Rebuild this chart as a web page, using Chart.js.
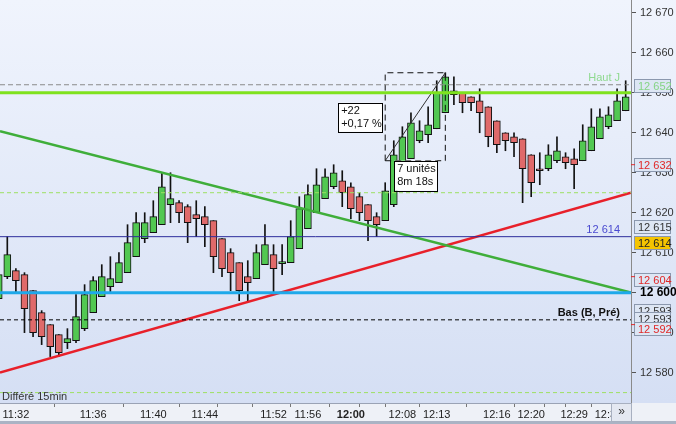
<!DOCTYPE html>
<html>
<head>
<meta charset="utf-8">
<script src="https://cdn.jsdelivr.net/npm/chart.js@4"></script>
<style>
  html, body { margin: 0; padding: 0; background: #e9eef9; }
  #wrap { width: 676px; height: 424px; }
</style>
</head>
<body>
<div id="wrap"><canvas id="chart" width="676" height="424"></canvas></div>
<script>
// candles (one per unit, left to right)
const opens  = [12598.5,12604,12605.5,12604.5,12600.5,12595,12592,12589.5,12587.5,12588,12591,12595,12599,12601.5,12602.5,12605,12609,12613.5,12615,12617,12622,12622.5,12621.5,12619.5,12619,12618,12613.5,12610,12607.5,12604,12603.5,12607,12609.5,12607.25,12607.5,12611,12616,12620,12623.5,12626.5,12628,12626.5,12624,12622,12619,12618,12622,12628,12633.5,12638,12639.5,12641,12645,12649.5,12650,12649,12648,12646.5,12643,12640,12639,12638.5,12634.5,12631,12631,12633,12634,12633.5,12633,12635.5,12638.5,12641.5,12643,12645.5];
const highs  = [12606,12614,12606,12605,12600.5,12595.5,12592,12589.5,12591,12599.5,12602,12604,12607,12609,12610,12617,12620,12620,12623,12630,12630,12623,12622,12623,12621.5,12618,12613.5,12611,12607.5,12608,12612,12617,12612,12612,12618,12624,12627,12631,12631,12632,12630.5,12627.5,12625,12622,12620,12627.5,12638,12641.5,12645,12643,12646.5,12653,12655,12654,12650,12649,12651,12646.5,12643,12640,12640,12638.5,12634.5,12635,12637,12639,12635,12636,12642,12646,12646,12646.5,12651,12653];
const lows   = [12597.5,12603.5,12600,12590,12589,12587,12584,12584,12586,12587.5,12590.5,12595,12599,12600,12602.5,12605,12609,12612.5,12615,12617,12617.5,12617.5,12612.5,12614,12611.5,12605,12604,12600.5,12598,12598,12603.5,12607,12600,12604.5,12607.5,12611,12616,12620,12623.5,12626,12621.5,12618.5,12618,12613,12614,12618,12621.5,12628,12633.5,12637.5,12637.5,12641,12645,12647,12645,12645.5,12640,12636.5,12635,12635.5,12634,12622.5,12624,12627,12630.5,12632.5,12631,12626,12633,12635.5,12638.5,12641,12643,12645.5];
const closes = [12604.5,12609.5,12603,12596,12590,12589,12586.5,12585,12588.5,12594,12599.5,12603,12604,12603.5,12607.5,12612.5,12617.5,12617.5,12619,12626.5,12623.5,12620,12617.5,12618.5,12617,12609,12606,12605,12600.5,12602.5,12610,12612,12606,12607.75,12614,12621,12624.5,12627,12629,12630,12625,12621,12620,12618,12617,12625.5,12634.5,12639,12642.5,12640.5,12642,12650,12654,12650.5,12647.5,12647.5,12645,12639,12637,12638,12637.5,12631,12627.5,12630.5,12634.5,12635.5,12632.5,12632,12638,12641.5,12644,12644.5,12648,12649];

// time axis: candle index -> label
const xTickIdx    = [2, 11, 18, 24, 27, 32, 36, 41, 43, 47, 51, 58, 62, 65, 67, 71];
const xTickLabels = ['11:32','11:36','11:40','11:44','','11:52','11:56','12:00','','12:08','12:13','12:16','12:20','','12:29','12:33'];
const yTicks = [12580, 12590, 12600, 12610, 12620, 12630, 12640, 12650, 12660, 12670];

// drawn levels and trend lines
const levelLime = 12650;
const levelHautJ = 12652;
const levelNavy = 12614;
const levelCyan = 12600;
const levelBas = 12593.2;
const levelsPaleGreen = [12625, 12575];
const greenTrend = [12640.4, 12600];
const redTrend = [12580, 12625];
const measureFrom = [45, 12633];
const measureTo = [52, 12655];

const X_MIN = 0.15, X_MAX = 73.62;
const Y_MIN = 12572.4, Y_MAX = 12673.2;
const FONT = '"Liberation Sans", Arial, sans-serif';

const fmt = v => String(Math.round(v)).replace(/\B(?=(\d{3})+(?!\d))/g, ' ');

const bodyColors = opens.map((o, i) => closes[i] >= o ? '#52c852' : '#e06a6a');

const hline = (v, color, width, dash) => ({
  type: 'line',
  data: [{x: X_MIN, y: v}, {x: X_MAX, y: v}],
  borderColor: color, borderWidth: width, borderDash: dash || [],
  pointRadius: 0, clip: 0, order: 0
});

const trend = (vals, color) => ({
  type: 'line',
  data: [{x: X_MIN, y: vals[0]}, {x: X_MAX, y: vals[1]}],
  borderColor: color, borderWidth: 2.5, pointRadius: 0, clip: 0, order: 0
});

const [mx0, my0] = measureFrom, [mx1, my1] = measureTo;

const overlay = {
  id: 'overlay',
  beforeDraw(chart) {
    const {ctx, chartArea: a, width, height} = chart;
    ctx.save();
    const g = ctx.createLinearGradient(0, 0, 0, a.bottom);
    g.addColorStop(0, '#f0f4fd');
    g.addColorStop(1, '#d5dff4');
    ctx.fillStyle = g;
    ctx.fillRect(0, 0, width, a.bottom);
    ctx.fillStyle = '#eef1f7';
    ctx.fillRect(0, a.bottom, width, height - a.bottom);
    ctx.fillStyle = '#aab3c4';
    ctx.fillRect(0, height - 3, width, 3);
    ctx.restore();
  },
  afterDatasetsDraw(chart) {
    const {ctx, chartArea: a, scales: {x, y}} = chart;
    ctx.save();
    ctx.font = '11px ' + FONT;
    ctx.textBaseline = 'bottom';
    ctx.textAlign = 'right';
    ctx.fillStyle = '#8fd98f';
    ctx.fillText('Haut J', a.right - 11, y.getPixelForValue(levelHautJ) - 1);
    ctx.fillStyle = '#4a4ad0';
    ctx.fillText(fmt(levelNavy), a.right - 11, y.getPixelForValue(levelNavy) - 1);
    ctx.font = 'bold 11px ' + FONT;
    ctx.fillStyle = '#111';
    ctx.fillText('Bas (B, Pré)', a.right - 11, y.getPixelForValue(levelBas) - 1);

    ctx.font = '11px ' + FONT;
    ctx.textAlign = 'left';
    ctx.textBaseline = 'middle';
    ctx.fillStyle = '#333';
    ctx.fillText('Différé 15min', 2, a.bottom - 6);

    // measurement labels
    const xs = x.getPixelForValue(mx0);
    const box = (l, t, w, h, lines) => {
      ctx.fillStyle = '#ffffff';
      ctx.fillRect(l, t, w, h);
      ctx.strokeStyle = '#000';
      ctx.lineWidth = 1;
      ctx.strokeRect(Math.round(l) + 0.5, Math.round(t) + 0.5, w, h);
      ctx.fillStyle = '#111';
      lines.forEach((s, k) => ctx.fillText(s, l + 3, t + 8 + k * 13.5));
    };
    box(xs - 47, y.getPixelForValue(12647.5), 44, 29, ['+22', '+0,17 %']);
    box(xs + 9, y.getPixelForValue(my0), 43, 30, ['7 unités', '8m 18s']);
    ctx.restore();
  },
  afterDraw(chart) {
    const {ctx, chartArea: a, scales: {y}, height} = chart;
    ctx.save();
    ctx.font = '11px ' + FONT;
    ctx.textBaseline = 'middle';
    ctx.textAlign = 'left';
    const marks = [
      {v: 12652, dy: 1.5, color: '#86d486', fill: '#dde6f4'},
      {v: 12632, dy: 0.5, color: '#e02828', fill: '#dde6f4', tick: true},
      {v: 12615, dy: -6, color: '#333', fill: '#dde6f4'},
      {v: 12614, dy: 6, color: '#222', fill: '#f5c400'},
      {v: 12604, dy: 3, color: '#e02828', fill: '#dde6f4', tick: true},
      {v: 12593, dy: -10, color: '#333', fill: '#dde6f4'},
      {v: 12593, dy: -2, color: '#333', fill: '#dde6f4'},
      {v: 12592, dy: 4.5, color: '#e02828', fill: '#dde6f4', tick: true}
    ];
    marks.forEach(m => {
      const py = y.getPixelForValue(m.v);
      const cy = Math.round(py + m.dy);
      ctx.fillStyle = m.fill;
      ctx.fillRect(635, cy - 6, 36, 12);
      ctx.strokeStyle = '#8b98ae';
      ctx.lineWidth = 1;
      ctx.strokeRect(634.5, cy - 6.5, 36, 13);
      ctx.fillStyle = m.color;
      ctx.fillText(fmt(m.v), 638, cy + 0.5);
      if (m.tick) {
        ctx.strokeStyle = m.color;
        ctx.beginPath();
        ctx.moveTo(a.right, py); ctx.lineTo(a.right + 4, py);
        ctx.stroke();
      }
    });
    // scroll button
    ctx.fillStyle = '#e4e8f1';
    ctx.fillRect(612, a.bottom + 1, 19, height - a.bottom - 4);
    ctx.strokeStyle = '#a8b0c0';
    ctx.strokeRect(611.5, a.bottom + 0.5, 20, height - a.bottom - 3);
    ctx.fillStyle = '#333';
    ctx.font = '12px ' + FONT;
    ctx.textAlign = 'center';
    ctx.fillText('»', 621.5, a.bottom + 9);
    ctx.restore();
  }
};

const noPad = s => { s.paddingTop = 0; s.paddingBottom = 0; s.paddingLeft = 0; s.paddingRight = 0; };

new Chart(document.getElementById('chart'), {
  type: 'bar',
  data: {
    datasets: [
      hline(levelsPaleGreen[0], '#9ee063', 1, [4, 3]),
      hline(levelsPaleGreen[1], '#9ee063', 1, [4, 3]),
      hline(levelHautJ, '#8a8a8a', 1, [5, 3]),
      hline(levelBas, '#000000', 1, [4, 3]),
      hline(levelNavy, '#2d2d9c', 1),
      hline(levelLime, '#7fe21e', 3),
      hline(levelCyan, '#1ea9ea', 3),
      trend(greenTrend, '#3fae3a'),
      trend(redTrend, '#e8202a'),
      {
        type: 'line',
        data: [{x: mx0, y: my0}, {x: mx1, y: my0}, {x: mx1, y: my1}, {x: mx0, y: my1}, {x: mx0, y: my0}],
        borderColor: '#111', borderWidth: 1, borderDash: [6, 4], pointRadius: 0, order: 0
      },
      {
        type: 'line',
        data: [{x: mx0, y: my0}, {x: mx1, y: my1}],
        borderColor: '#333', borderWidth: 1, pointRadius: 0, order: 0
      },
      {
        label: 'bodies',
        data: opens.map((o, i) => ({x: i, y: [o, closes[i]]})),
        backgroundColor: bodyColors,
        borderColor: '#111',
        borderWidth: 1,
        borderSkipped: false,
        barThickness: 7,
        grouped: false,
        order: 1
      },
      {
        label: 'wicks',
        data: lows.map((l, i) => ({x: i, y: [l, highs[i]]})),
        backgroundColor: '#111',
        borderWidth: 0,
        barThickness: 1,
        grouped: false,
        order: 2
      }
    ]
  },
  options: {
    responsive: false,
    animation: false,
    devicePixelRatio: 1,
    layout: { padding: 0, autoPadding: false },
    plugins: { legend: { display: false }, tooltip: { enabled: false } },
    scales: {
      x: {
        type: 'linear', min: X_MIN, max: X_MAX, offset: false,
        afterBuildTicks: s => { s.ticks = xTickIdx.map(v => ({value: v})); },
        afterFit: s => { s.height = 21; noPad(s); },
        grid: { drawOnChartArea: false, tickLength: 4, color: '#777' },
        border: { color: '#9aa3b5' },
        ticks: {
          autoSkip: false, maxRotation: 0, padding: 1, color: '#222',
          font: c => ({ family: FONT, size: 11, weight: c.tick && c.tick.value === 41 ? 'bold' : 'normal' }),
          callback: v => xTickLabels[xTickIdx.indexOf(v)] || ''
        }
      },
      y: {
        position: 'right', min: Y_MIN, max: Y_MAX,
        afterBuildTicks: s => { s.ticks = yTicks.map(v => ({value: v})); },
        afterFit: s => { s.width = 45; noPad(s); },
        grid: { drawOnChartArea: false, tickLength: 5, color: '#555' },
        border: { color: '#8a8a8a' },
        ticks: {
          padding: 4,
          color: c => c.tick && c.tick.value === 12600 ? '#000' : '#333',
          font: c => c.tick && c.tick.value === 12600
            ? { family: FONT, size: 12, weight: 'bold' }
            : { family: FONT, size: 11 },
          callback: v => fmt(v)
        }
      }
    }
  },
  plugins: [overlay]
});
</script>
</body>
</html>
